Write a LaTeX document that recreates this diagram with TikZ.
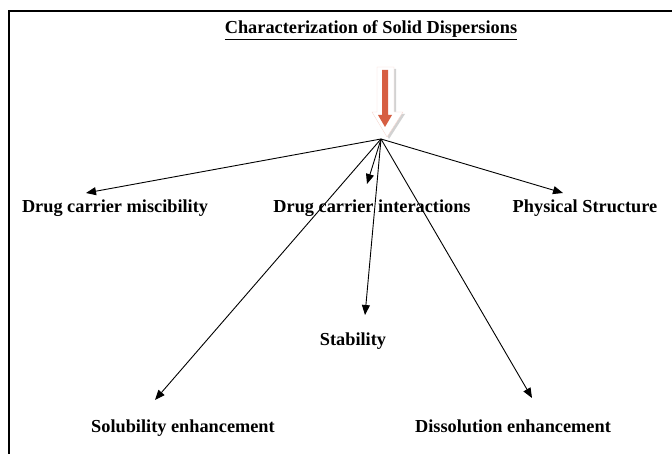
\documentclass[tikz,border=0pt]{standalone}
\usepackage{fontspec}
\setmainfont{Liberation Serif}
\usetikzlibrary{arrows.meta}

\definecolor{arrowred}{RGB}{214,94,66}

\begin{document}
\begin{tikzpicture}[x=1pt,y=-1pt,every node/.style={font=\bfseries\fontsize{18.3}{22}\selectfont}]
  \tikzset{
    lbl/.style={anchor=base,inner sep=0pt},
    link/.style={line width=0.9pt,-{Triangle[length=10pt,width=8pt]}}
  }
  \useasboundingbox (0,0) rectangle (672,454);
  \draw[line width=2pt] (9,454) -- (9,11) -- (672,11);

  % title and the big arrow
  \node[lbl] (title) at (371,34) {\underline{Characterization of Solid Dispersions}};
  \fill[gray!35] (379,69) -- (396,69) -- (396,114) -- (405,114) -- (389,139)
    -- (374,114) -- (379,114) -- cycle;
  \filldraw[fill=white,draw=arrowred!25] (377,67) -- (394,67) -- (394,112) -- (403,112)
    -- (387,137) -- (372,112) -- (377,112) -- cycle;
  \fill[arrowred] (382,70) -- (388,70) -- (388,115) -- (392,115) -- (385,127)
    -- (378,115) -- (382,115) -- cycle;

  % labels
  \node[lbl] (misc) at (115,213) {Drug carrier miscibility};
  \node[lbl] (inter) at (372,213) {Drug carrier interactions};
  \node[lbl] (phys) at (585,213) {Physical Structure};
  \node[lbl] (stab) at (353,345) {Stability};
  \node[lbl] (solu) at (183,432) {Solubility enhancement};
  \node[lbl] (diss) at (513,432) {Dissolution enhancement};

  % arrow ends
  \coordinate (hub) at (381,139);
  \coordinate (miscend) at (86,193);
  \coordinate (interend) at (367,184);
  \coordinate (physend) at (563,193);
  \coordinate (stabend) at (365,315);
  \coordinate (soluend) at (155,400);
  \coordinate (dissend) at (532,398);

  \foreach \e in {miscend,interend,physend,stabend,soluend,dissend}
    \draw[link] (hub) -- (\e);
\end{tikzpicture}
\end{document}
